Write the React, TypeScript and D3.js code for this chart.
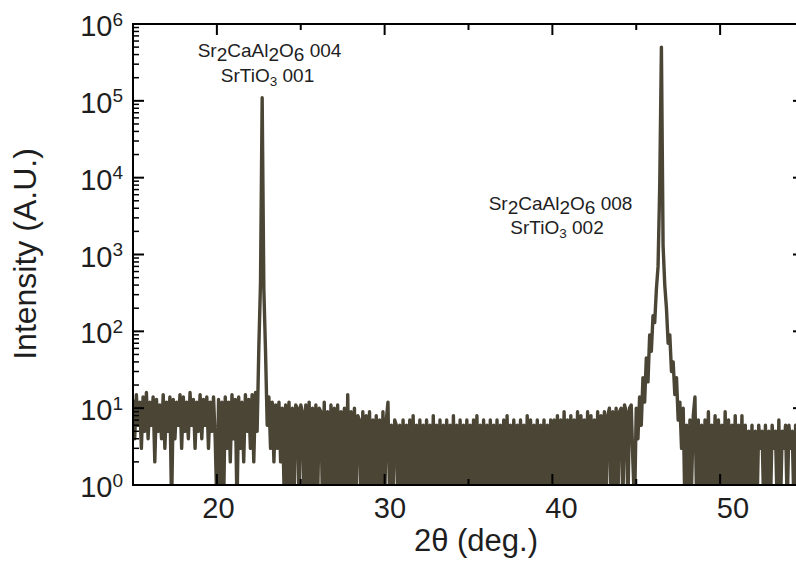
import React from 'react';
import * as d3 from 'd3';

const TWO_THETA_START = 15;
const TWO_THETA_STEP = 0.1;

const intensity: number[] = [
  // 15.0
  13, 4, 15, 6, 12, 3, 14, 5, 16, 4,
  // 16.0
  12, 6, 14, 2, 13, 5, 11, 4, 15, 3,
  // 17.0
  12, 5, 14, 0, 13, 4, 12, 6, 15, 3,
  // 18.0
  14, 5, 12, 4, 16, 6, 13, 3, 12, 5,
  // 19.0
  15, 4, 13, 6, 14, 3, 12, 5, 14, 4,
  // 20.0
  0, 13, 0, 12, 0, 14, 3, 12, 2, 15,
  // 21.0
  4, 13, 0, 14, 3, 12, 2, 15, 5, 13,
  // 22.0
  3, 15, 2, 16, 5, 60, 420, 110000, 350, 55,
  // 23.0
  6, 14, 3, 12, 2, 11, 3, 12, 2, 10,
  // 24.0
  1, 11, 0, 12, 0, 10, 0, 11, 10, 0,
  // 25.0
  11, 9, 0, 11, 0, 12, 0, 10, 0, 11,
  // 26.0
  0, 10, 9, 0, 12, 0, 9, 0, 11, 0,
  // 27.0
  10, 0, 11, 0, 9, 1, 10, 0, 15, 0,
  // 28.0
  9, 0, 10, 0, 8, 7, 0, 9, 0, 8,
  // 29.0
  0, 9, 0, 7, 1, 8, 0, 7, 0, 9,
  // 30.0
  0, 7, 12, 0, 6, 0, 7, 6, 0, 6,
  // 31.0
  0, 7, 0, 6, 1, 7, 0, 8, 0, 6,
  // 32.0
  0, 7, 0, 6, 0, 7, 1, 6, 0, 8,
  // 33.0
  0, 6, 0, 7, 0, 6, 0, 7, 1, 6,
  // 34.0
  0, 8, 0, 6, 0, 7, 0, 6, 0, 7,
  // 35.0
  1, 6, 0, 7, 0, 8, 0, 6, 0, 7,
  // 36.0
  0, 6, 0, 7, 1, 6, 0, 7, 0, 6,
  // 37.0
  0, 7, 0, 8, 0, 6, 0, 7, 0, 6,
  // 38.0
  1, 7, 0, 6, 0, 8, 0, 7, 0, 6,
  // 39.0
  0, 7, 0, 6, 1, 7, 0, 6, 0, 7,
  // 40.0
  0, 7, 0, 8, 0, 7, 1, 9, 0, 7,
  // 41.0
  0, 8, 0, 7, 0, 9, 0, 8, 1, 7,
  // 42.0
  0, 9, 0, 8, 0, 7, 0, 9, 0, 8,
  // 43.0
  1, 9, 0, 8, 10, 0, 9, 1, 10, 0,
  // 44.0
  9, 10, 0, 11, 9, 0, 10, 11, 2, 0,
  // 45.0
  10, 4, 14, 6, 25, 12, 45, 22, 90, 55,
  // 46.0
  160, 130, 350, 700, 8000, 500000, 1300, 400, 200, 70,
  // 47.0
  90, 30, 40, 15, 25, 7, 12, 3, 10, 0,
  // 48.0
  6, 0, 7, 1, 8, 14, 0, 7, 0, 6,
  // 49.0
  0, 7, 0, 9, 0, 6, 1, 8, 0, 7,
  // 50.0
  0, 6, 0, 9, 0, 7, 0, 6, 1, 8,
  // 51.0
  0, 6, 0, 8, 0, 6, 0, 5, 1, 6,
  // 52.0
  0, 5, 0, 6, 3, 5, 0, 6, 0, 5,
  // 53.0
  0, 6, 3, 5, 0, 7, 0, 5, 3, 6,
  // 54.0
  0, 6, 3, 5, 0, 6, 0, 5, 0, 6,
  // 55.0
  0,
];

const yTickExponents = [0, 1, 2, 3, 4, 5, 6];
const xMajorTicks = [20, 30, 40, 50];
const xMinorTicks = [15, 25, 35, 45, 55];
const xLabelValues = [20, 30, 40, 50];

const W = 796;
const H = 562;
const LEFT = 133;
const RIGHT = 804;
const TOP = 24;
const BOTTOM = 485;

const LINE_COLOR = '#4a4535';
const FONT = '"Liberation Sans", Arial, Helvetica, sans-serif';
const TEXT_COLOR = '#1e1e1e';

export default function App() {
  const x = d3.scaleLinear().domain([15, 55]).range([LEFT, RIGHT]);
  const y = d3.scaleLog().domain([1, 1e6]).range([BOTTOM, TOP]);
  // the printed bottom tick labels sit slightly offset from the tick grid in the reference
  const xLabel = d3.scaleLinear().domain([20, 50]).range([218.5, 733]);

  const line = d3
    .line<number>()
    .x((_, i) => x(TWO_THETA_START + i * TWO_THETA_STEP))
    .y((d) => (d > 0 ? y(d) : y(0.5)));

  const yMinor: number[] = [];
  for (let e = 0; e < 6; e++) {
    for (let m = 2; m <= 9; m++) yMinor.push(m * Math.pow(10, e));
  }

  const MAJ = 11;
  const MIN = 6;

  return (
    <svg
      width={W}
      height={H}
      style={{ position: 'absolute', left: 0, top: 0, background: '#fff' }}
      fontFamily={FONT}
    >
      <defs>
        <clipPath id="plotClip">
          <rect x={LEFT} y={TOP} width={RIGHT - LEFT} height={BOTTOM - TOP + 1} />
        </clipPath>
      </defs>

      <g clipPath="url(#plotClip)">
        <path
          d={line(intensity) || ''}
          fill="none"
          stroke={LINE_COLOR}
          strokeWidth={3.4}
          strokeLinejoin="round"
        />
      </g>

      {/* frame */}
      <rect x={LEFT} y={TOP} width={RIGHT - LEFT} height={BOTTOM - TOP} fill="none" stroke="#000" strokeWidth={2} />

      {/* x ticks top & bottom */}
      {xMajorTicks.map((v) => (
        <g key={'xM' + v}>
          <line x1={x(v)} x2={x(v)} y1={TOP} y2={TOP + MAJ} stroke="#000" strokeWidth={2} />
          <line x1={x(v)} x2={x(v)} y1={BOTTOM} y2={BOTTOM - MAJ} stroke="#000" strokeWidth={2} />
        </g>
      ))}
      {xMinorTicks.map((v) => (
        <g key={'xm' + v}>
          <line x1={x(v)} x2={x(v)} y1={TOP} y2={TOP + MIN} stroke="#000" strokeWidth={2} />
          <line x1={x(v)} x2={x(v)} y1={BOTTOM} y2={BOTTOM - MIN} stroke="#000" strokeWidth={2} />
        </g>
      ))}

      {/* y ticks left & right */}
      {yTickExponents.map((e) => (
        <g key={'yM' + e}>
          <line x1={LEFT} x2={LEFT + MAJ} y1={y(Math.pow(10, e))} y2={y(Math.pow(10, e))} stroke="#000" strokeWidth={2} />
          <line x1={RIGHT} x2={RIGHT - MAJ} y1={y(Math.pow(10, e))} y2={y(Math.pow(10, e))} stroke="#000" strokeWidth={2} />
        </g>
      ))}
      {yMinor.map((v) => (
        <g key={'ym' + v}>
          <line x1={LEFT} x2={LEFT + MIN} y1={y(v)} y2={y(v)} stroke="#000" strokeWidth={1.5} />
          <line x1={RIGHT} x2={RIGHT - MIN} y1={y(v)} y2={y(v)} stroke="#000" strokeWidth={1.5} />
        </g>
      ))}

      {/* y tick labels */}
      {yTickExponents.map((e) => (
        <text key={'yl' + e} x={123} y={y(Math.pow(10, e)) + 12} textAnchor="end" fontSize={29} fill={TEXT_COLOR}>
          10
          <tspan dy={-10.5} fontSize={19}>
            {String(e)}
          </tspan>
        </text>
      ))}

      {/* x tick labels */}
      {xLabelValues.map((v) => (
        <text key={'xl' + v} x={xLabel(v)} y={518} textAnchor="middle" fontSize={29} fill={TEXT_COLOR}>
          {String(v)}
        </text>
      ))}

      {/* axis titles */}
      <text x={476} y={551} textAnchor="middle" fontSize={31} fill={TEXT_COLOR}>
        2θ (deg.)
      </text>
      <text
        transform="translate(36,254) rotate(-90)"
        textAnchor="middle"
        fontSize={32}
        fill={TEXT_COLOR}
      >
        Intensity (A.U.)
      </text>

      {/* peak annotations */}
      <text x={269.5} y={57} textAnchor="middle" fontSize={19} fill={TEXT_COLOR}>
        Sr<tspan dy={4}>2</tspan>
        <tspan dy={-4}>CaAl</tspan>
        <tspan dy={4}>2</tspan>
        <tspan dy={-4}>O</tspan>
        <tspan dy={4}>6</tspan>
        <tspan dy={-4}>{' 004'}</tspan>
      </text>
      <text x={267.5} y={82} textAnchor="middle" fontSize={19} fill={TEXT_COLOR}>
        SrTiO
        <tspan dy={3.5} fontSize={13.5}>3</tspan>
        <tspan dy={-3.5}>{' 001'}</tspan>
      </text>

      <text x={560.5} y={210} textAnchor="middle" fontSize={19} fill={TEXT_COLOR}>
        Sr<tspan dy={4}>2</tspan>
        <tspan dy={-4}>CaAl</tspan>
        <tspan dy={4}>2</tspan>
        <tspan dy={-4}>O</tspan>
        <tspan dy={4}>6</tspan>
        <tspan dy={-4}>{' 008'}</tspan>
      </text>
      <text x={557} y={234} textAnchor="middle" fontSize={19} fill={TEXT_COLOR}>
        SrTiO
        <tspan dy={3.5} fontSize={13.5}>3</tspan>
        <tspan dy={-3.5}>{' 002'}</tspan>
      </text>
    </svg>
  );
}
